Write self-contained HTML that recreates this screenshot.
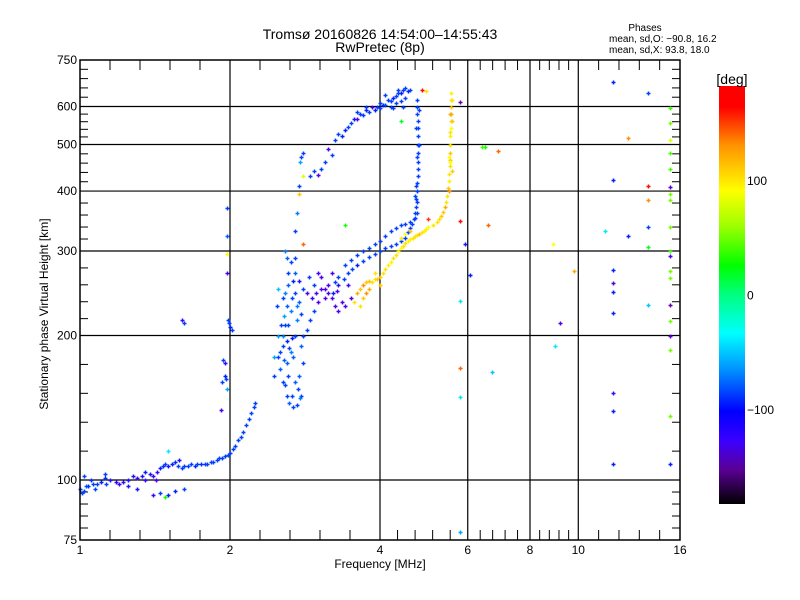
<!DOCTYPE html>
<html><head><meta charset="utf-8"><style>
body{margin:0;background:#fff;}
svg{display:block;font-family:"Liberation Sans",sans-serif;}
</style></head><body>
<svg id="chart" width="800" height="600" viewBox="0 0 800 600">
<defs>
<linearGradient id="cb" x1="0" y1="1" x2="0" y2="0">
<stop offset="0" stop-color="#000000"/>
<stop offset="0.083" stop-color="#5a0096"/>
<stop offset="0.15" stop-color="#3c00ff"/>
<stop offset="0.222" stop-color="#0000ff"/>
<stop offset="0.32" stop-color="#0090ff"/>
<stop offset="0.408" stop-color="#00ffff"/>
<stop offset="0.5" stop-color="#00ff80"/>
<stop offset="0.57" stop-color="#00ff00"/>
<stop offset="0.667" stop-color="#a0ff00"/>
<stop offset="0.75" stop-color="#ffff00"/>
<stop offset="0.86" stop-color="#ff9000"/>
<stop offset="0.95" stop-color="#ff0000"/>
<stop offset="1" stop-color="#ff0000"/>
</linearGradient>
</defs>
<text x="380" y="39" font-size="14" text-anchor="middle">Tromsø 20160826 14:54:00–14:55:43</text>
<text x="380" y="52" font-size="14" text-anchor="middle">RwPretec (8p)</text>
<g font-size="10">
<text x="645" y="31" text-anchor="middle">Phases</text>
<text x="609" y="42">mean, sd,O: −90.8, 16.2</text>
<text x="609" y="53">mean, sd,X:  93.8, 18.0</text>
</g>
<g id="grid"></g>
<g id="ticks"></g>
<g id="marks"></g>
<rect x="80" y="60" width="600" height="480" fill="none" stroke="#000" stroke-width="1.5"/>
<g id="labels" font-size="12"></g>
<text x="380" y="568" font-size="12" text-anchor="middle">Frequency [MHz]</text>
<text transform="translate(48,314) rotate(-90)" font-size="12" text-anchor="middle">Stationary phase Virtual Height [km]</text>
<rect x="719" y="86" width="26" height="418" fill="url(#cb)"/>
<text x="732" y="84" font-size="14" text-anchor="middle">[deg]</text>
<g id="cblabels" font-size="12"></g>
</svg>
<script>
const xTickVals=[1,2,4,6,8,10,16];
const xTickLabels=["1","2","4","6","8","10","16"];
const yTickVals=[75,100,200,300,400,500,600,750];
const yTickLabels=["75","100","200","300","400","500","600","750"];
const cbTickVals=[100,0,-100];
const cbTickLabels=["100","0","−100"];
// [freq MHz, height km, phase deg]
const lowTrace=[[1.0,96,-90],[1.01,94,-90],[1.02,95,-90],[1.03,97,-80],[1.04,97,-95],[1.06,98,-90],[1.07,96,-90],[1.1,99,-100],[1.12,101,-95],[1.13,98,-90],[1.15,100,-110],[1.18,99,-120],[1.2,98,-120],[1.22,99,-115],[1.25,100,-110],[1.28,102,-110],[1.3,101,-120],[1.33,102,-110],[1.35,104,-100],[1.38,103,-110],[1.4,102,-120],[1.43,104,-120],[1.45,106,-100],[1.47,107,-95],[1.48,108,-90],[1.5,107,-110],[1.53,108,-100],[1.55,109,-95],[1.57,107,-90],[1.6,106,-90],[1.62,107,-90],[1.65,107,-90],[1.67,108,-90],[1.7,107,-95],[1.72,108,-90],[1.75,108,-95],[1.78,108,-90],[1.8,108,-90],[1.83,109,-90],[1.85,109,-90],[1.88,110,-90],[1.9,111,-90],[1.93,111,-90],[1.95,112,-90],[1.98,113,-90],[2.0,114,-90],[2.03,116,-90],[2.05,118,-90],[2.08,121,-90],[2.1,123,-90],[2.12,126,-90],[2.15,130,-90],[2.18,134,-90],[2.2,138,-90],[2.23,142,-90],[2.25,145,-90],[1.3,96,-110],[1.4,93,-120],[1.45,94,-90],[1.5,93,-100],[1.48,92,30],[1.02,102,-90],[1.5,115,-40],[1.05,100,-95],[1.08,98,-90],[1.58,110,-110],[1.62,96,-90],[1.55,95,-100],[1.12,103,-90],[1.25,97,-110],[1.35,100,-120],[1.42,100,-130]];
const sideColumn=[[1.93,160,-90],[1.95,165,-100],[1.97,155,-60],[1.95,175,-120],[1.94,178,-90],[1.96,162,-90],[1.98,215,-90],[2.0,208,-100],[2.02,205,-90],[1.99,212,-90],[1.97,369,-90],[1.97,323,-80],[1.97,296,90],[1.97,270,-130],[1.6,215,-120],[1.62,212,-90],[1.92,140,-130]];
const cloud=[[2.5,180,-90],[2.52,170,-80],[2.55,190,-90],[2.55,200,-70],[2.58,210,-90],[2.6,195,-100],[2.6,175,-80],[2.62,165,-90],[2.65,185,-70],[2.55,160,-90],[2.5,200,-60],[2.48,230,-90],[2.5,250,-50],[2.55,240,-90],[2.6,230,-80],[2.65,225,-70],[2.7,245,-90],[2.68,260,-100],[2.62,270,-90],[2.6,290,-80],[2.58,300,-70],[2.65,285,-90],[2.7,270,-80],[2.75,260,-110],[2.8,250,-90],[2.75,235,-80],[2.72,215,-70],[2.7,200,-90],[2.68,180,-80],[2.6,150,-90],[2.63,145,-80],[2.68,142,-90],[2.72,143,-90],[2.78,150,-90],[2.75,165,-80],[2.8,175,-90],[2.78,190,-80],[2.8,200,-90],[2.85,205,-90],[2.9,215,-90],[2.95,225,-90],[3.0,235,-130],[3.05,250,-130],[3.1,240,-130],[3.15,245,-130],[3.05,265,-130],[3.0,270,-120],[2.95,255,-90],[2.45,180,-60],[2.45,165,-90],[2.57,220,-60],[2.62,210,-90],[2.66,198,-100],[2.7,160,-80],[2.76,148,-70],[2.52,185,-90],[2.57,178,-80],[2.63,188,-90],[2.53,210,-90],[2.58,245,-70],[2.66,240,-90],[2.72,230,-70],[2.78,222,-90],[2.62,255,-80],[2.7,290,-90],[2.58,158,-90],[2.66,150,-90],[2.74,155,-90],[2.86,245,-130],[2.92,240,-120],[2.98,245,-130],[2.88,265,-90]];
const upperTrace=[[2.7,330,-90],[2.72,360,-70],[2.75,410,-90],[2.76,460,-60],[2.8,430,80],[2.78,470,-90],[2.8,480,-90],[2.75,395,110],[2.8,310,140],[2.9,430,-90],[2.95,440,-90],[3.0,432,-130],[3.05,445,-90],[3.1,460,-90],[3.2,475,-90],[3.15,490,-130],[3.25,510,-90],[3.3,525,-90],[3.35,520,-100],[3.4,535,-100],[3.45,545,-90],[3.5,555,-90],[3.55,565,-100],[3.6,565,-130],[3.65,580,-90],[3.7,575,-90],[3.75,590,-100],[3.8,585,-90],[3.9,590,-100],[3.95,600,-90],[4.0,595,-90],[4.05,605,-100],[4.1,605,-90],[4.15,620,-90],[4.2,615,-90],[4.25,625,-100],[4.3,630,-90],[4.35,640,-90],[4.4,640,-100],[4.45,650,-90],[4.5,655,-90],[4.55,645,-100],[4.6,650,-90],[4.2,600,-90],[4.3,610,-90],[4.5,625,-90],[3.75,600,-90],[3.85,600,-130],[4.0,610,-90],[4.1,635,-90],[4.35,650,-90],[4.45,600,-90],[4.25,595,-90],[4.4,615,-90],[3.6,585,-90]];
const oTrace=[[4.75,620,-90],[4.75,600,-90],[4.75,580,-90],[4.76,560,-90],[4.76,540,-90],[4.77,520,-90],[4.76,500,-90],[4.77,480,-90],[4.77,460,-90],[4.76,445,-90],[4.76,430,-90],[4.75,415,-90],[4.74,400,-90],[4.73,385,-90],[4.72,370,-90],[4.7,360,-90],[4.68,350,-90],[4.64,342,-90],[4.6,335,-90],[4.55,328,-90],[4.5,320,-90],[4.4,315,-90],[4.3,310,-90],[4.2,308,-90],[4.1,305,-90],[4.0,300,-90],[3.9,296,-90],[3.8,292,-90],[3.7,286,-90],[3.6,280,-100],[3.52,275,-90],[3.45,270,-90],[3.38,262,-90],[3.3,255,-110],[3.22,245,-100],[4.75,360,-90],[4.7,352,-90],[4.6,345,-90],[4.5,342,-90],[4.4,340,-90],[4.3,335,-90],[4.2,330,-90],[4.1,322,-90],[4.0,315,-90],[3.9,310,-90],[3.8,305,-90],[3.7,300,-90],[3.6,295,-90],[3.5,288,-90],[3.4,280,-90],[3.3,265,-90],[3.25,258,-90],[4.7,390,-90],[4.72,410,-90],[4.74,470,-90],[4.79,500,-90],[4.73,540,-90],[4.78,590,-90],[4.75,380,-90],[3.15,255,-130],[3.2,240,-130],[3.25,230,-130],[3.3,225,-130],[3.4,230,-130],[3.5,240,-130],[3.45,255,-120],[3.2,270,-130],[3.1,250,-130],[3.35,235,-130],[3.28,248,-130]];
const xTrace=[[3.55,235,100],[3.6,245,120],[3.65,250,110],[3.7,255,130],[3.75,258,110],[3.8,260,110],[3.85,258,100],[3.9,262,100],[3.95,262,110],[4.0,265,110],[4.05,270,100],[4.1,275,100],[4.15,280,95],[4.2,285,95],[4.25,290,100],[4.3,295,100],[4.35,300,95],[4.4,305,90],[4.45,308,100],[4.5,312,100],[4.55,315,95],[4.6,318,95],[4.65,320,100],[4.7,322,100],[4.75,324,100],[4.8,326,110],[4.85,328,100],[4.9,330,95],[4.95,333,95],[5.0,336,90],[5.1,340,100],[5.2,345,100],[5.25,350,100],[5.3,355,110],[5.35,362,110],[5.4,370,120],[5.43,380,100],[5.45,390,100],[5.48,405,110],[5.5,420,95],[5.51,435,100],[5.52,450,100],[5.53,465,110],[5.53,480,110],[5.54,500,100],[5.54,520,95],[5.55,540,90],[5.55,560,100],[5.56,580,120],[5.55,600,110],[5.56,620,100],[5.56,640,95],[5.5,400,130],[5.52,500,100],[3.7,240,110],[3.8,250,120],[4.4,320,100],[4.5,325,90],[4.6,330,110],[3.65,230,100],[5.57,620,100],[5.54,580,120],[5.53,460,90],[5.58,560,110],[5.52,530,100],[5.5,470,90],[5.58,440,110],[3.75,245,130],[3.9,270,100],[4.0,255,110]];
const sparse=[[11.72,675,-100],[13.8,639,-90],[15.3,595,40],[12.6,516,130],[15.3,555,50],[15.3,511,80],[15.3,480,40],[15.3,445,40],[11.72,422,-100],[13.8,409,160],[15.3,407,-140],[15.3,395,50],[13.8,383,130],[15.3,383,50],[11.3,331,-40],[13.8,336,-90],[12.6,322,-100],[15.3,336,50],[13.8,306,20],[15.3,300,40],[15.3,293,-130],[11.72,274,-100],[11.72,257,-140],[15.3,272,50],[15.3,263,50],[11.72,246,-100],[13.8,232,-50],[15.3,232,-150],[11.72,223,-100],[15.3,214,50],[15.3,200,-140],[15.3,187,50],[11.72,152,-120],[11.72,139,-100],[15.3,136,50],[11.72,108,-100],[15.3,108,-100],[5.8,612,-150],[5.8,347,160],[5.8,236,-40],[5.8,171,140],[5.8,149,-40],[5.92,310,-110],[6.05,268,-100],[5.8,78,-60],[6.5,495,30],[6.4,495,40],[6.9,485,140],[6.6,340,140],[6.7,168,-50],[8.9,310,90],[9.8,273,120],[9.2,212,-130],[9.0,190,-40],[3.4,340,30],[5.0,350,150],[4.95,645,100],[4.85,650,160],[4.4,560,20]];

const X=f=>80+150*Math.log2(f);
const Y=h=>540-480*Math.log10(h/75);
const NS="http://www.w3.org/2000/svg";
function mk(tag,attrs,parent){const e=document.createElementNS(NS,tag);for(const k in attrs)e.setAttribute(k,attrs[k]);parent.appendChild(e);return e;}
const stops=[[-180,[0,0,0]],[-150,[100,0,170]],[-125,[70,0,255]],[-100,[0,30,255]],[-65,[0,144,255]],[-33,[0,255,255]],[0,[0,255,128]],[25,[0,255,0]],[60,[160,255,0]],[90,[255,255,0]],[130,[255,144,0]],[162,[255,0,0]],[180,[255,0,0]]];
function hex(v){return ('0'+Math.max(0,Math.min(255,Math.round(v))).toString(16)).slice(-2);}
function col(p){for(let i=1;i<stops.length;i++){if(p<=stops[i][0]){const a=stops[i-1],b=stops[i],t=(p-a[0])/(b[0]-a[0]);return '#'+hex(a[1][0]+(b[1][0]-a[1][0])*t)+hex(a[1][1]+(b[1][1]-a[1][1])*t)+hex(a[1][2]+(b[1][2]-a[1][2])*t);}}return "#ff0000";}

const grid=document.getElementById('grid');
[2,4,6,8,10].forEach(f=>{const l=mk('line',{x1:X(f),x2:X(f),y1:60,y2:540,stroke:'#000','stroke-width':1.2},grid);});
[100,200,300,400,500,600].forEach(h=>{const l=mk('line',{x1:80,x2:680,y1:Y(h),y2:Y(h),stroke:'#000','stroke-width':1.2},grid);});

const ticks=document.getElementById('ticks');
for(let i=0;i<xTickVals.length-1;i++){const a=Math.log2(xTickVals[i]),b=Math.log2(xTickVals[i+1]);for(let k=1;k<5;k++){const x=X(Math.pow(2,a+(b-a)*k/5));mk('line',{x1:x,x2:x,y1:540,y2:530,stroke:'#000'},ticks);mk('line',{x1:x,x2:x,y1:60,y2:70,stroke:'#000'},ticks);}}
for(let i=0;i<yTickVals.length-1;i++){const a=Math.log10(yTickVals[i]),b=Math.log10(yTickVals[i+1]);for(let k=1;k<5;k++){const y=Y(Math.pow(10,a+(b-a)*k/5));mk('line',{x1:80,x2:88,y1:y,y2:y,stroke:'#000'},ticks);mk('line',{x1:672,x2:680,y1:y,y2:y,stroke:'#000'},ticks);}}

const labels=document.getElementById('labels');
xTickVals.forEach((f,i)=>{const t=mk('text',{x:X(f),y:554,'text-anchor':'middle'},labels);t.textContent=xTickLabels[i];});
yTickVals.forEach((h,i)=>{const t=mk('text',{x:77,y:Y(h)+4,'text-anchor':'end'},labels);t.textContent=yTickLabels[i];});
const cbl=document.getElementById('cblabels');
const CB=p=>295.7-p*1.145;
cbTickVals.forEach((p,i)=>{const t=mk('text',{x:747,y:CB(p)+4},cbl);t.textContent=cbTickLabels[i];});

const marks=document.getElementById('marks');
[lowTrace,sideColumn,cloud,upperTrace,oTrace,xTrace,sparse].forEach(arr=>arr.forEach(d=>{
const x=Math.round(X(d[0]))+0.5,y=Math.round(Y(d[1]))+0.5,c=col(d[2]);
const p=mk('path',{d:`M${x-2},${y}H${x+2}M${x},${y-2}V${y+2}`,stroke:c,'stroke-width':1.4},marks);


}));
</script>
</body></html>
